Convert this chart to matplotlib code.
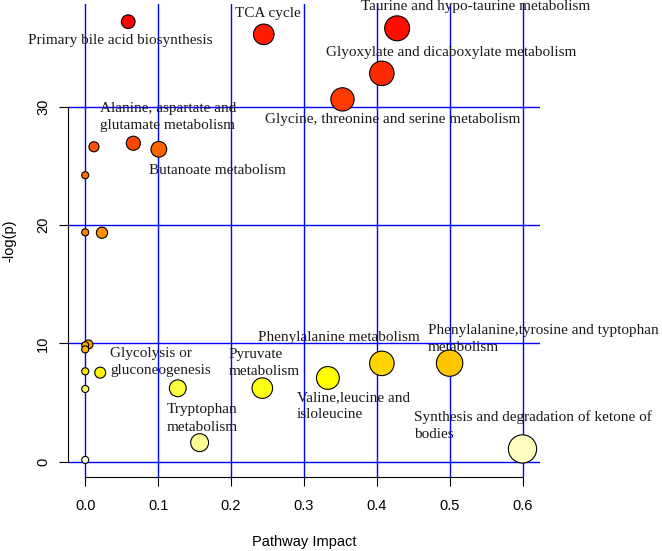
import numpy as np
import matplotlib
matplotlib.use("Agg")
import matplotlib.pyplot as plt
import colorsys

# pathway impact (x) and -log(p) (y)
impact = [0.059, 0.428, 0.245, 0.407, 0.353, 0.066, 0.012, 0.101, 0.0, 0.0,
          0.023, 0.0045, 0.0, 0.0, 0.5, 0.407, 0.0, 0.0206, 0.333, 0.243,
          0.127, 0.0, 0.157, 0.6, 0.0]
neglogp = [37.16, 36.6, 36.09, 32.8, 30.6, 26.9, 26.6, 26.39, 24.2, 19.38,
           19.35, 9.92, 9.85, 9.5, 8.34, 8.32, 7.65, 7.54, 7.09, 6.23,
           6.22, 6.16, 1.63, 1.1, 0.17]

# labels: text, anchor x, anchor y (left aligned, vertically centred)
label_text = ["Primary bile acid biosynthesis", "TCA cycle",
              "Taurine and hypo-taurine metabolism",
              "Glyoxylate and dicaboxylate metabolism",
              "Glycine, threonine and serine metabolism",
              "Alanine, aspartate and\nglutamate metabolism",
              "Butanoate metabolism", "Glycolysis or\ngluconeogenesis",
              "Pyruvate\nmetabolism", "Tryptophan\nmetabolism",
              "Phenylalanine metabolism", "Valine,leucine and\nisloleucine",
              "Phenylalanine,tyrosine and typtophan\nmetabolism",
              "Synthesis and degradation of ketone of\nbodies"]
label_x = [-0.0785, 0.206, 0.3786, 0.331, 0.2471, 0.0201, 0.0873, 0.034,
           0.1973, 0.1115, 0.2366, 0.29, 0.47, 0.4507]
label_y = [35.55, 37.86, 38.43, 34.54, 28.92, 29.14, 24.64, 8.46,
           8.34, 3.67, 10.49, 4.74, 10.39, 3.05]


def heat_colors(n):
    # same as R's heat.colors(n)
    j = n // 4
    i = n - j
    cols = []
    for h in np.linspace(0, 1 / 6, i):
        cols.append(colorsys.hsv_to_rgb(h, 1, 1))
    if j > 0:
        for s in np.linspace(1 - 1 / (2 * j), 1 / (2 * j), j):
            cols.append(colorsys.hsv_to_rgb(1 / 6, s, 1))
    return cols


x = np.array(impact)
y = np.array(neglogp)
order = np.argsort(-y, kind="stable")
x, y = x[order], y[order]

sqx = np.sqrt(x)
maxR = (sqx.max() - sqx.min()) / 40
minR = (sqx.max() - sqx.min()) / 160
radii = minR + (maxR - minR) * (sqx - sqx.min()) / (sqx.max() - sqx.min())
bg = heat_colors(len(y))

W, H = 6.62, 5.51
fig = plt.figure(figsize=(W, H), dpi=100)
pos = [0.1023, 0.1343, 0.7134, 0.8584]
ax = fig.add_axes(pos)

xlim = (-0.024, 0.624)
ylim = (-1.27, 38.65)
ax.set_xlim(xlim)
ax.set_ylim(ylim)

# grid
for gx in np.arange(0, 0.61, 0.1):
    ax.axvline(gx, color="blue", lw=1, zorder=1)
for gy in [0, 10, 20, 30]:
    ax.axhline(gy, color="blue", lw=1, zorder=1)

# radius in x-units -> points
px_per_unit = pos[2] * W * 100 / (xlim[1] - xlim[0])
r_pt = radii * px_per_unit * 0.72
ax.scatter(x, y, s=(2 * r_pt) ** 2, c=bg, edgecolors="black",
           linewidths=0.8, zorder=3, clip_on=False)

for t, lx, ly in zip(label_text, label_x, label_y):
    ax.text(lx, ly, t, ha="left", va="center", multialignment="left",
            family="Liberation Serif", fontsize=11, color="#1a1a1a",
            linespacing=1.42, zorder=4, clip_on=False)

for s in ["top", "right"]:
    ax.spines[s].set_visible(False)
ax.spines["left"].set_bounds(0, 30)
ax.spines["bottom"].set_bounds(0, 0.6)
ax.spines["left"].set_linewidth(0.8)
ax.spines["bottom"].set_linewidth(0.8)

ax.set_xticks(np.arange(0, 0.61, 0.1))
ax.set_xticklabels(["0.0", "0.1", "0.2", "0.3", "0.4", "0.5", "0.6"])
ax.set_yticks([0, 10, 20, 30])
ax.tick_params(axis="x", length=6.5, width=0.8, pad=9, labelsize=10.5)
ax.tick_params(axis="y", length=6.5, width=0.8, pad=6, labelsize=10.5)
for lab in ax.get_yticklabels():
    lab.set_rotation(90)
    lab.set_va("center")
for lab in ax.get_xticklabels() + ax.get_yticklabels():
    lab.set_family("Liberation Sans")

ax.set_xlabel("Pathway Impact", family="Liberation Sans", fontsize=10.5)
ax.set_ylabel("-log(p)", family="Liberation Sans", fontsize=10.5)
ax.xaxis.set_label_coords(0.5, -0.137)
ax.xaxis.label.set_va("center")
ax.yaxis.set_label_coords(-0.123, 0.5)
ax.yaxis.label.set_va("center")

fig.savefig("out.png", dpi=100)
